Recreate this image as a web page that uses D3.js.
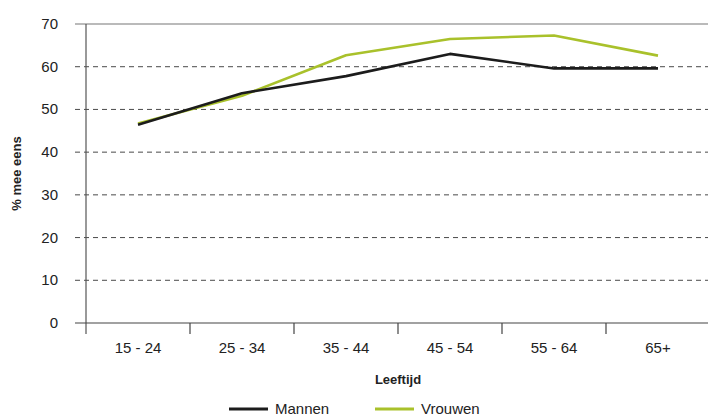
<!DOCTYPE html>
<html>
<head>
<meta charset="utf-8">
<script src="https://cdn.jsdelivr.net/npm/d3@7"></script>
<style>
    body { margin: 0; background: #fff; }
    svg { font-family: "Liberation Sans", Arial, sans-serif; }
</style>
</head>
<body>
<div id="chart"></div>
<script>
const categories = ["15 - 24", "25 - 34", "35 - 44", "45 - 54", "55 - 64", "65+"];
const mannen = [46.4, 53.8, 57.8, 63.0, 59.6, 59.6];
const vrouwen = [46.7, 53.2, 62.7, 66.5, 67.3, 62.6];
const yTicks = [0, 10, 20, 30, 40, 50, 60, 70];

const SERIES = [
    { name: "Mannen", values: mannen, color: "#1c1c1c" },
    { name: "Vrouwen", values: vrouwen, color: "#a9c12b" },
];

const width = 708;
const height = 415;
const margin = { top: 24, right: -2, bottom: 92, left: 86 };

const svg = d3.select("#chart")
    .append("svg")
    .attr("width", width)
    .attr("height", height);

const x = d3.scaleBand()
    .domain(categories)
    .range([margin.left, width - margin.right]);

const y = d3.scaleLinear()
    .domain([0, 70])
    .range([height - margin.bottom, margin.top]);

// gridlines
svg.append("g")
    .selectAll("line")
    .data(yTicks.filter((d) => d > 0 && d < 70))
    .enter()
    .append("line")
    .attr("x1", margin.left - 11)
    .attr("x2", width)
    .attr("y1", (d) => y(d))
    .attr("y2", (d) => y(d))
    .attr("stroke", "#4a4a4a")
    .attr("stroke-width", 1)
    .attr("stroke-dasharray", "5,4");

// top line
svg.append("line")
    .attr("x1", margin.left - 11)
    .attr("x2", width)
    .attr("y1", y(70))
    .attr("y2", y(70))
    .attr("stroke", "#777")
    .attr("stroke-width", 1.2);

// y axis line
svg.append("line")
    .attr("x1", margin.left)
    .attr("x2", margin.left)
    .attr("y1", y(70))
    .attr("y2", y(0) + 11)
    .attr("stroke", "#555")
    .attr("stroke-width", 1.2);

// x axis
const xAxis = svg.append("g")
    .attr("transform", `translate(0,${y(0)})`);

xAxis.append("line")
    .attr("x1", margin.left - 11)
    .attr("x2", width)
    .attr("stroke", "#444")
    .attr("stroke-width", 1.2);

xAxis.selectAll(".tick")
    .data(categories.slice(1))
    .enter()
    .append("line")
    .attr("x1", (d) => x(d))
    .attr("x2", (d) => x(d))
    .attr("y1", 0)
    .attr("y2", 11)
    .attr("stroke", "#444")
    .attr("stroke-width", 1.2);

xAxis.selectAll("text")
    .data(categories)
    .enter()
    .append("text")
    .attr("x", (d) => x(d) + x.bandwidth() / 2)
    .attr("y", 30)
    .attr("text-anchor", "middle")
    .attr("font-size", 15)
    .attr("fill", "#222")
    .text((d) => d);

// y tick labels
svg.append("g")
    .selectAll("text")
    .data(yTicks)
    .enter()
    .append("text")
    .attr("x", 58)
    .attr("y", (d) => y(d) + 5)
    .attr("text-anchor", "end")
    .attr("font-size", 15)
    .attr("fill", "#222")
    .text((d) => d);

// axis titles
svg.append("text")
    .attr("x", (margin.left + width - margin.right) / 2)
    .attr("y", 384)
    .attr("text-anchor", "middle")
    .attr("font-size", 13)
    .attr("font-weight", "bold")
    .attr("fill", "#222")
    .text("Leeftijd");

svg.append("text")
    .attr("transform", `translate(21,${(y(0) + y(70)) / 2}) rotate(-90)`)
    .attr("text-anchor", "middle")
    .attr("font-size", 13)
    .attr("font-weight", "bold")
    .attr("fill", "#222")
    .text("% mee eens");

// lines
const line = d3.line()
    .x((d, i) => x(categories[i]) + x.bandwidth() / 2)
    .y((d) => y(d));

SERIES.slice().reverse().forEach((s) => {
    svg.append("path")
        .datum(s.values)
        .attr("fill", "none")
        .attr("stroke", s.color)
        .attr("stroke-width", 2.6)
        .attr("stroke-linejoin", "round")
        .attr("d", line);
});

// legend
const legendX = [229, 375];
SERIES.forEach((s, i) => {
    const g = svg.append("g").attr("transform", `translate(${legendX[i]},409)`);
    g.append("line")
        .attr("x1", 0)
        .attr("x2", 39)
        .attr("stroke", s.color)
        .attr("stroke-width", 3);
    g.append("text")
        .attr("x", 46)
        .attr("y", 5)
        .attr("font-size", 15)
        .attr("fill", "#222")
        .text(s.name);
});
</script>
</body>
</html>
